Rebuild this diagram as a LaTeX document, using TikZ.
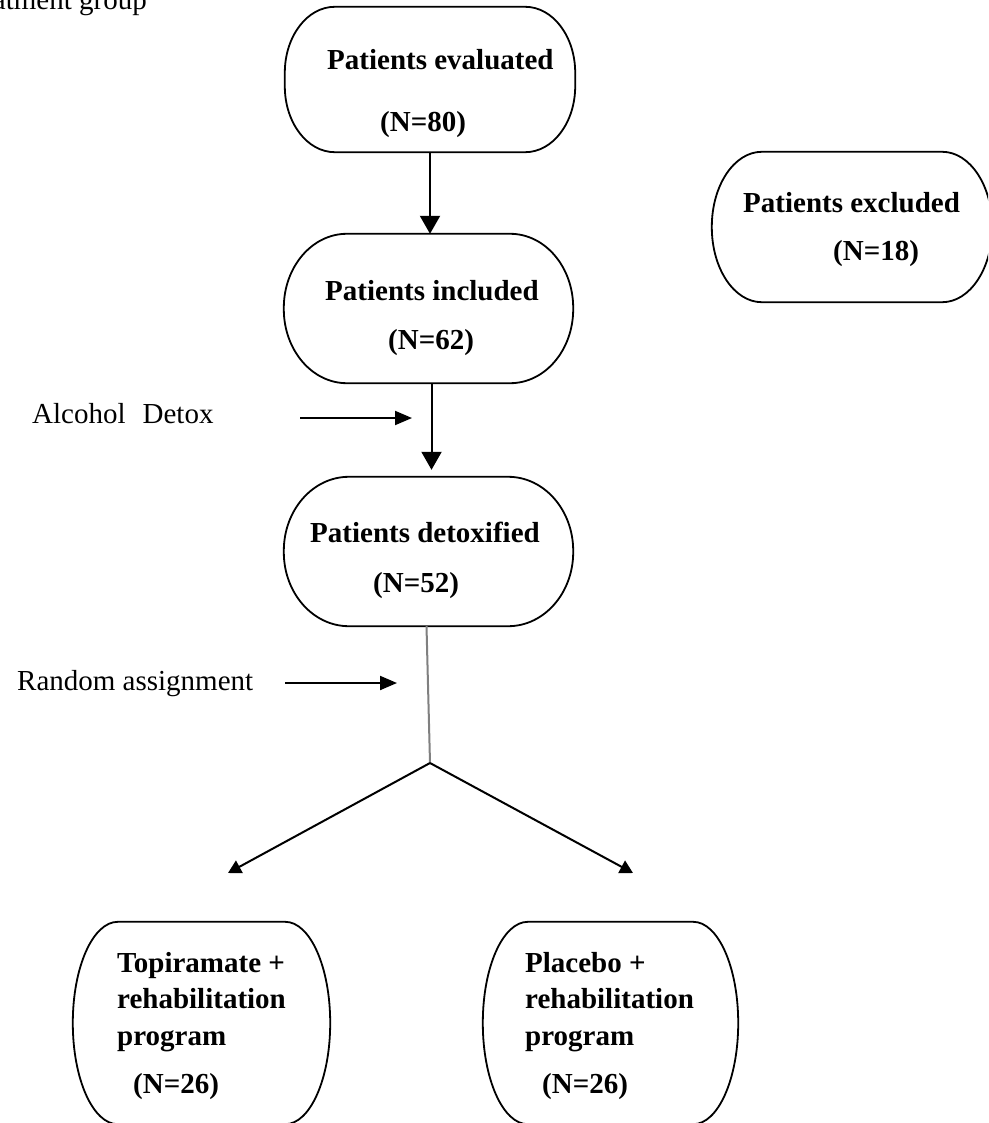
\documentclass[tikz,border=0pt]{standalone}
\usepackage{fontspec}
\setmainfont{Liberation Serif}
\usetikzlibrary{arrows.meta,calc}
\tikzset{
  boxarea/.style={draw=none, inner sep=0pt, shape=rectangle},
  boxline/.style={line width=1.8pt, black, line join=round},
  lbl/.style={anchor=base west, inner sep=0pt, font=\fontsize{29pt}{36.5pt}\selectfont},
  blbl/.style={lbl, font=\fontsize{29pt}{36.5pt}\selectfont\bfseries, align=left},
  vconn/.style={line width=2pt, -{Triangle[length=18pt,width=20pt]}},
  hconn/.style={line width=2pt, -{Triangle[length=17pt,width=14pt]}},
  dconn/.style={line width=2pt, -{Triangle[length=13pt,width=14pt]}},
  grayline/.style={line width=2pt, black!50},
}
\newcommand\drawstadium[3]{%
  \draw[boxline] ($(#1.north west)+(#2,0)$) -- ($(#1.north east)+(-#2,0)$)
   .. controls ($(#1.north east)+(-0.4477*#2,0)$) and ($(#1.north east)+(0,0.4477*#3)$) .. ($(#1.north east)+(0,#3)$)
   -- ($(#1.south east)+(0,-#3)$)
   .. controls ($(#1.south east)+(0,-0.4477*#3)$) and ($(#1.south east)+(-0.4477*#2,0)$) .. ($(#1.south east)+(-#2,0)$)
   -- ($(#1.south west)+(#2,0)$)
   .. controls ($(#1.south west)+(0.4477*#2,0)$) and ($(#1.south west)+(0,-0.4477*#3)$) .. ($(#1.south west)+(0,-#3)$)
   -- ($(#1.north west)+(0,#3)$)
   .. controls ($(#1.north west)+(0,0.4477*#3)$) and ($(#1.north west)+(0.4477*#2,0)$) .. ($(#1.north west)+(#2,0)$)
   -- cycle;}
\begin{document}
\begin{tikzpicture}[x=1pt,y=-1pt]
\useasboundingbox (0,0) rectangle (988,1123);
\fill[white] (0,0) rectangle (988,1123);
\clip (0,0) rectangle (988,1123);

% box areas
\node[boxarea, minimum width=290pt, minimum height=145pt] (eval) at (430,79.5) {};
\node[boxarea, minimum width=289pt, minimum height=149pt] (incl) at (428.5,308.5) {};
\node[boxarea, minimum width=289pt, minimum height=149pt] (detox) at (428.5,551.5) {};
\node[boxarea, minimum width=280pt, minimum height=150pt] (excl) at (852,227) {};
\node[boxarea, minimum width=257pt, minimum height=202pt] (topi) at (201.5,1023) {};
\node[boxarea, minimum width=255pt, minimum height=202pt] (plac) at (610.5,1023) {};

\drawstadium{eval}{50}{66}
\drawstadium{incl}{63}{74}
\drawstadium{detox}{65}{74}
\drawstadium{excl}{50}{75}
\drawstadium{topi}{45}{101}
\drawstadium{plac}{45}{101}

% texts
\node[lbl, anchor=base east] (head) at (147,10) {Treatment group};
\node[blbl] (evalT) at (327,70) {Patients evaluated};
\node[blbl] (evalN) at (380,132) {(N=80)};
\node[blbl] (inclT) at (325,300) {Patients included};
\node[blbl] (inclN) at (388,349) {(N=62)};
\node[blbl] (detoxT) at (310,542) {Patients detoxified};
\node[blbl] (detoxN) at (373,592) {(N=52)};
\node[blbl] (exclT) at (743,213) {Patients excluded};
\node[blbl] (exclN) at (833,260) {(N=18)};
\node[blbl] (topiT) at (117,1045) {Topiramate +\\rehabilitation\\program};
\node[blbl] (topiN) at (133,1093) {(N=26)};
\node[blbl] (placT) at (525,1045) {Placebo +\\rehabilitation\\program};
\node[blbl] (placN) at (542,1093) {(N=26)};
\node[lbl] (alc) at (32,423) {Alcohol\hspace{17pt}Detox};
\node[lbl] (rand) at (17,690) {Random assignment};

% coordinates
\coordinate (alcS) at (300,418);
\coordinate (alcE) at (412,418);
\coordinate (randS) at (285,683);
\coordinate (randE) at (397,683);
\coordinate (split) at (430,763);
\coordinate (tipL) at (228,873);
\coordinate (tipR) at (633,873);

% connectors
\draw[vconn] (eval.south) -- (eval.south |- incl.north);
\draw[vconn, shorten >=7pt] ($(incl.south)+(3,0)$) -- ($(detox.north)+(3,0)$);
\draw[hconn] (alcS) -- (alcE);
\draw[hconn] (randS) -- (randE);
\draw[grayline] ($(detox.south)+(-2,0)$) -- (split);
\draw[dconn] (split) -- (tipL);
\draw[dconn] (split) -- (tipR);
\end{tikzpicture}
\end{document}
